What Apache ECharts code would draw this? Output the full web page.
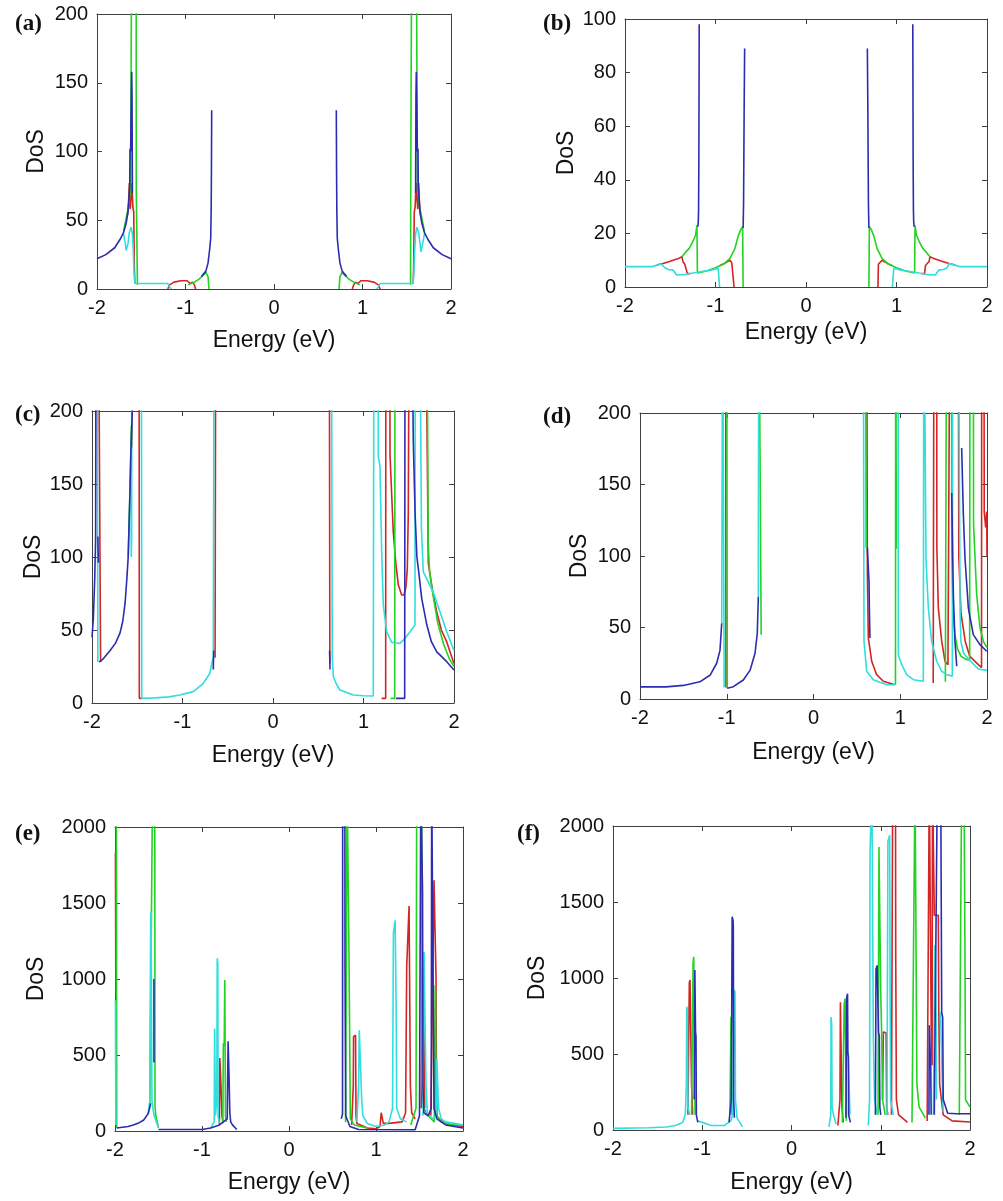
<!DOCTYPE html>
<html lang="en" style="height: 100%">

<head>
  <meta charset="utf-8">
</head>

<body style="height: 100%; margin: 0">
  <div id="container" style="width: 1003px; height: 1201px"></div>

  <script type="text/javascript" src="https://fastly.jsdelivr.net/npm/echarts@6.0.0/dist/echarts.min.js"></script>

  <script type="text/javascript">
    // [energy, DoS] pairs; BR breaks a curve
    var BR = [null, null];

    var xTicks = [-2, -1, 0, 1, 2];
    var panelTags = ['(a)', '(b)', '(c)', '(d)', '(e)', '(f)'];
    var yMax = [200, 100, 200, 200, 2000, 2000];
    var yStep = [50, 20, 50, 50, 500, 500];

    // (a)
    var aBlue = [
      [-2, 22], [-1.9, 25], [-1.8, 30], [-1.74, 36], [-1.7, 41], [-1.67, 48], [-1.65, 56], [-1.64, 65], [-1.63, 75],
      [-1.627, 102], [-1.62, 100], [-1.612, 142], [-1.608, 158], [-1.604, 140], [-1.6, 70], BR,
      [-0.82, 9], [-0.77, 13], [-0.745, 19], [-0.725, 30], [-0.715, 37], [-0.71, 57], [-0.707, 86], [-0.704, 130], BR,
      [0.704, 130], [0.707, 86], [0.71, 57], [0.715, 37], [0.725, 30], [0.745, 19], [0.77, 13], [0.82, 9], BR,
      [1.6, 70], [1.604, 140], [1.608, 158], [1.612, 142], [1.62, 100], [1.627, 102], [1.63, 75], [1.64, 65], [1.65, 56],
      [1.67, 48], [1.7, 41], [1.74, 36], [1.8, 30], [1.9, 25], [2, 22]
    ];
    var aRed = [
      [-1.66, 52], [-1.645, 60], [-1.635, 77], [-1.625, 58], [-1.615, 66], [-1.605, 77], [-1.595, 60], [-1.585, 56], [-1.578, 16], [-1.572, 4], BR,
      [-1.2, 0], [-1.18, 3], [-1.13, 5], [-1.05, 6], [-0.98, 6], [-0.95, 4], [-0.92, 5], [-0.9, 3], [-0.885, 0], BR,
      [0.885, 0], [0.9, 3], [0.92, 5], [0.95, 4], [0.98, 6], [1.05, 6], [1.13, 5], [1.18, 3], [1.2, 0], BR,
      [1.572, 4], [1.578, 16], [1.585, 56], [1.595, 60], [1.605, 77], [1.615, 66], [1.625, 58], [1.635, 77], [1.645, 60], [1.66, 52]
    ];
    var aGreen = [
      [-1.7, 42], [-1.65, 58], [-1.62, 72], [-1.606, 300], [-1.558, 300], [-1.556, 71], [-1.545, 71], [-1.543, 3], BR,
      [-0.97, 3], [-0.9, 5], [-0.85, 7], [-0.8, 10], [-0.77, 12], [-0.745, 9], [-0.735, 0], BR,
      [0.735, 0], [0.745, 9], [0.77, 12], [0.8, 10], [0.85, 7], [0.9, 5], [0.97, 3], BR,
      [1.543, 3], [1.545, 71], [1.556, 71], [1.558, 300], [1.606, 300], [1.62, 72], [1.65, 58], [1.7, 42]
    ];
    var aCyan = [
      [-1.7, 40], [-1.68, 33], [-1.67, 28], [-1.66, 27], [-1.65, 33], [-1.635, 41], [-1.615, 45], [-1.6, 40], [-1.59, 28],
      [-1.58, 10], [-1.57, 4], [-1.2, 4], [-1.18, 1.5], [-1.16, 0], BR,
      [1.16, 0], [1.18, 1.5], [1.2, 4], [1.57, 4], [1.58, 10], [1.59, 28], [1.6, 40], [1.615, 45], [1.635, 41], [1.65, 33],
      [1.66, 27], [1.67, 28], [1.68, 33], [1.7, 40]
    ];

    // (b)
    var bBlue = [
      [-1.195, 22.5], [-1.19, 24.4], [-1.187, 28.7], [-1.184, 46], [-1.18, 98], BR,
      [-0.695, 22], [-0.69, 30.6], [-0.683, 68.5], [-0.678, 89], BR,
      [0.678, 89], [0.683, 68.5], [0.69, 30.6], [0.695, 22], BR,
      [1.18, 98], [1.184, 46], [1.187, 28.7], [1.19, 24.4], [1.195, 22.5]
    ];
    var bRed = [
      [-1.65, 8.2], [-1.58, 8.8], [-1.5, 9.6], [-1.42, 10.5], [-1.37, 11.3], [-1.36, 9.5], [-1.34, 8.5], [-1.32, 8], [-1.31, 5], [-1.28, 5], BR,
      [-0.95, 8], [-0.9, 8.8], [-0.84, 10], [-0.82, 9], [-0.8, 8.5], [-0.795, 0], BR,
      [0.795, 0], [0.8, 8.5], [0.82, 9], [0.84, 10], [0.9, 8.8], [0.95, 8], BR,
      [1.28, 5], [1.31, 5], [1.32, 8], [1.34, 8.5], [1.36, 9.5], [1.37, 11.3], [1.42, 10.5], [1.5, 9.6], [1.58, 8.8], [1.65, 8.2]
    ];
    var bGreen = [
      [-1.37, 11.3], [-1.33, 13], [-1.29, 14.4], [-1.25, 17], [-1.22, 19.4], [-1.205, 23], [-1.2, 5.2], [-1.1, 6], [-1.0, 7.2],
      [-0.9, 8.8], [-0.84, 10.7], [-0.785, 14.4], [-0.75, 19], [-0.72, 21.5], [-0.7, 22.5], [-0.695, 0], BR,
      [0.695, 0], [0.7, 22.5], [0.72, 21.5], [0.75, 19], [0.785, 14.4], [0.84, 10.7], [0.9, 8.8], [1.0, 7.2], [1.1, 6],
      [1.2, 5.2], [1.205, 23], [1.22, 19.4], [1.25, 17], [1.29, 14.4], [1.33, 13], [1.37, 11.3]
    ];
    var bCyan = [
      [-2, 7.6], [-1.7, 7.6], [-1.6, 8.6], [-1.58, 8.8], [-1.56, 7.2], [-1.52, 6.5], [-1.47, 6.3], [-1.45, 5.5], [-1.43, 4.5],
      [-1.35, 4.6], [-1.25, 5.2], [-1.17, 5.7], [-1.05, 6.3], [-0.97, 7], [-0.955, 0], BR,
      [0.955, 0], [0.97, 7], [1.05, 6.3], [1.17, 5.7], [1.25, 5.2], [1.35, 4.6], [1.43, 4.5], [1.45, 5.5], [1.47, 6.3],
      [1.52, 6.5], [1.56, 7.2], [1.58, 8.8], [1.6, 8.6], [1.7, 7.6], [2, 7.6]
    ];

    // (c)
    var cBlue = [
      [-2, 45], [-1.985, 58], [-1.97, 85], [-1.96, 113], [-1.955, 300], BR,
      [-1.935, 114], [-1.93, 96], BR,
      [-1.92, 28], [-1.88, 30], [-1.8, 36], [-1.74, 41], [-1.69, 48], [-1.66, 56], [-1.635, 68], [-1.615, 85], [-1.6, 100],
      [-1.58, 146], [-1.57, 173], [-1.555, 200], BR,
      [-0.66, 23], [-0.655, 36], BR,
      [0.625, 36], [0.63, 23], BR,
      [1.36, 3.2], [1.455, 3.2], [1.459, 300], BR,
      [1.53, 300], [1.55, 180], [1.57, 130], [1.59, 100], [1.61, 90], [1.643, 71.7], [1.7, 53.4], [1.75, 42], [1.81, 35],
      [1.92, 28.3], [2, 22.6]
    ];
    var cRed = [
      [-1.93, 300], [-1.91, 300], [-1.905, 28], BR,
      [-1.56, 175], [-1.545, 300], [-1.48, 300], [-1.477, 3.2], [-1.45, 3.2], BR,
      [-0.64, 31], [-0.632, 300], BR,
      [0.622, 300], [0.628, 27], BR,
      [1.2, 3.2], [1.245, 3.2], [1.247, 300], [1.29, 300], [1.293, 170], [1.329, 117], [1.359, 94.5], [1.385, 80.8],
      [1.422, 74], [1.448, 74], [1.47, 79.7], [1.484, 92], [1.495, 130], [1.506, 300], BR,
      [1.68, 300], [1.7, 200], [1.716, 96], [1.76, 78], [1.809, 62.5], [1.86, 50], [1.919, 42], [1.993, 28.3], [2, 27]
    ];
    var cGreen = [
      [-1.6, 100], [-1.58, 146], [-1.565, 190], BR,
      [1.3, 3.2], [1.345, 3.2], [1.348, 300], BR,
      [1.62, 300], [1.7, 300], [1.715, 110], [1.73, 90], [1.771, 72.8], [1.82, 55], [1.882, 40.9], [1.95, 30], [2, 25]
    ];
    var cCyan = [
      [-1.945, 300], [-1.94, 300], [-1.935, 28], BR,
      [-1.57, 173], [-1.566, 100], [-1.562, 113], [-1.56, 300], BR,
      [-1.455, 300], [-1.45, 3.2], [-1.3, 3.5], [-1.15, 4.2], [-1.03, 5.5], [-0.88, 7.8], [-0.77, 13.5], [-0.7, 20],
      [-0.66, 31.7], [-0.65, 300], BR,
      [0.645, 300], [0.655, 31.7], [0.667, 18], [0.7, 13], [0.74, 8.9], [0.887, 5.5], [1.0, 5], [1.108, 4.8], [1.116, 300],
      [1.16, 300], [1.164, 168.7], [1.182, 162], [1.201, 103.6], [1.219, 67], [1.256, 48.8], [1.312, 41.5], [1.403, 40.8],
      [1.459, 44.3], [1.514, 48.8], [1.569, 53.4], [1.572, 300], BR,
      [1.62, 300], [1.64, 120], [1.66, 90], [1.77, 76], [1.845, 62.5], [1.92, 48.8], [1.99, 37.4], [2, 36]
    ];

    // (d)
    var dBlue = [
      [-2, 8.5], [-1.7, 8.5], [-1.5, 9.5], [-1.31, 12], [-1.19, 16.8], [-1.116, 25], [-1.078, 34], [-1.058, 53], BR,
      [-0.994, 7.5], [-0.924, 8.6], [-0.809, 13.3], [-0.732, 20], [-0.674, 32], [-0.648, 46], [-0.636, 71.5], BR,
      [0.621, 105.6], [0.64, 82], [0.645, 60], [0.651, 42.7], BR,
      [1.593, 144], [1.612, 73], [1.631, 40.3], [1.651, 22.9], BR,
      [1.708, 175.5], [1.727, 130], [1.746, 98.6], [1.785, 63.6], [1.842, 45], [1.919, 38], [1.997, 33.4], [2, 33]
    ];
    var dRed = [
      [-1.012, 300], [-1.009, 8], BR,
      [0.613, 300], [0.621, 87], [0.632, 42.7], [0.671, 26.4], [0.728, 17], [0.805, 12.4], [0.939, 10], BR,
      [1.38, 11.2], [1.389, 300], [1.42, 300], [1.422, 105.6], [1.439, 63.6], [1.478, 40.3], [1.516, 26.4], [1.55, 24],
      [1.572, 24], [1.574, 300], [1.669, 300], [1.675, 100], [1.7, 60], [1.75, 40], [1.8, 30], [1.9, 24], [1.937, 22],
      [1.939, 300], [1.965, 300], [1.968, 131], [1.985, 120], [1.997, 131], [2, 100]
    ];
    var dGreen = [
      [-1.0, 300], [-0.996, 103], [-0.994, 7.5], BR,
      [-0.63, 300], [-0.607, 300], [-0.603, 45], BR,
      [0.6, 300], [0.607, 105.6], BR,
      [0.945, 10], [0.948, 300], [0.952, 300], [0.955, 105], BR,
      [1.52, 12], [1.535, 300], [1.59, 300], [1.595, 100], [1.61, 60], [1.63, 45], [1.66, 35], [1.7, 30], [1.75, 28],
      [1.8, 27], [1.804, 300], [1.842, 300], [1.845, 122], [1.881, 73], [1.919, 49.7], [1.96, 40], [2, 36]
    ];
    var dCyan = [
      [-1.058, 53], [-1.047, 300], [-1.032, 300], [-1.03, 8], BR,
      [-0.636, 71.5], [-0.63, 300], BR,
      [0.574, 300], [0.582, 40.3], [0.613, 19.4], [0.689, 13.5], [0.844, 10], [0.939, 10], BR,
      [0.975, 300], [0.978, 31], [1.017, 24], [1.074, 17], [1.151, 13.5], [1.266, 12.4], [1.272, 300], [1.295, 300],
      [1.297, 97.4], [1.324, 63.6], [1.362, 40.3], [1.42, 26.4], [1.478, 19.4], [1.535, 17], [1.6, 16], [1.605, 300], BR,
      [1.669, 300], [1.689, 300], [1.69, 60], [1.7, 40], [1.73, 32], [1.8, 27], [1.9, 21], [2, 20]
    ];

    // (e)
    var eBlue = [
      [-1.98, 20], [-1.85, 30], [-1.79, 39], [-1.72, 55], [-1.67, 72], [-1.617, 116], [-1.59, 182], BR,
      [-1.553, 1000], [-1.552, 450], BR,
      [-1.5, 10], [-1.0, 10], [-0.9, 20], [-0.8, 40], [-0.71, 80], [-0.7, 590], [-0.695, 590], [-0.69, 380], [-0.685, 380],
      [-0.68, 120], [-0.67, 60], [-0.65, 40], [-0.6, 10], BR,
      [0.6, 80], [0.615, 110], [0.617, 2300], [0.642, 2300], [0.644, 1068], [0.648, 1068], [0.652, 100], [0.7, 30], [0.8, 10],
      [1.45, 8], [1.5, 100], [1.515, 2300], [1.53, 2300], [1.535, 1572], [1.54, 300], [1.55, 120], [1.6, 100], [1.635, 150],
      [1.64, 2300], [1.662, 2300], [1.667, 150], [1.7, 80], [1.8, 40], [1.9, 30], [2, 20]
    ];
    var eRed = [
      [-1.995, 1830], [-1.99, 880], BR,
      [-0.8, 40], [-0.795, 480], [-0.79, 489], [-0.785, 352], [-0.775, 340], [-0.77, 100], [-0.76, 60], BR,
      [0.72, 40], [0.739, 300], [0.742, 620], [0.765, 630], [0.77, 100], [0.78, 50], [0.9, 20], [1.0, 15], [1.046, 30],
      [1.06, 120], [1.084, 50], [1.15, 50], [1.3, 60], [1.34, 120], [1.353, 1080], [1.37, 1090], [1.38, 1480], [1.391, 1489],
      [1.395, 300], [1.41, 120], [1.45, 80], BR,
      [1.52, 150], [1.53, 1070], [1.545, 1060], [1.552, 690], [1.56, 150], BR,
      [1.63, 100], [1.667, 1650], [1.686, 1650], [1.69, 1000], [1.695, 300], [1.7, 100], [1.75, 60], [1.85, 40], [2, 30]
    ];
    var eGreen = [
      [-1.985, 2300], [-1.98, 20], BR,
      [-1.6, 150], [-1.568, 2300], [-1.543, 2300], [-1.54, 160], [-1.53, 100], [-1.5, 20], BR,
      [-0.76, 50], [-0.755, 578], [-0.745, 560], [-0.738, 993], [-0.733, 990], [-0.73, 100], [-0.72, 60], BR,
      [0.65, 60], [0.668, 2300], [0.686, 2300], [0.69, 1134], [0.701, 1134], [0.705, 80], [0.75, 40], [0.9, 20], BR,
      [1.4, 40], [1.46, 150], [1.468, 2300], [1.525, 2300], [1.53, 300], [1.55, 150], [1.6, 100], [1.67, 60], [1.68, 960],
      [1.685, 900], [1.69, 100], [1.8, 50], [1.9, 40], [2, 40]
    ];
    var eCyan = [
      [-1.995, 860], [-1.99, 40], BR,
      [-1.62, 110], [-1.6, 200], [-1.596, 700], [-1.59, 1400], [-1.585, 1443], [-1.58, 700], [-1.575, 200], [-1.565, 150],
      [-1.55, 100], [-1.5, 20], BR,
      [-0.9, 20], [-0.86, 60], [-0.855, 675], [-0.85, 670], [-0.845, 100], [-0.83, 200], [-0.825, 1136], [-0.818, 1100],
      [-0.815, 100], [-0.8, 50], BR,
      [0.78, 60], [0.8, 300], [0.808, 662], [0.82, 650], [0.836, 200], [0.85, 100], [0.9, 50], [1.0, 30], [1.1, 40],
      [1.15, 60], [1.19, 150], [1.2, 1300], [1.22, 1386], [1.232, 800], [1.238, 150], [1.28, 80], [1.35, 60], BR,
      [1.54, 100], [1.552, 1178], [1.565, 1178], [1.575, 300], [1.59, 120], [1.65, 80], [1.69, 100], [1.698, 476],
      [1.716, 476], [1.72, 150], [1.75, 80], [1.8, 60], [1.9, 50], [2, 40]
    ];

    // (f)
    var fBlue = [
      [-1.09, 200], [-1.083, 1053], [-1.078, 1040], [-1.075, 640], [-1.07, 620], [-1.066, 100], [-1.05, 50], BR,
      [-0.7, 50], [-0.675, 200], [-0.67, 730], [-0.665, 1403], [-0.655, 1380], [-0.652, 1340], [-0.648, 200], [-0.64, 80], BR,
      [0.61, 80], [0.618, 870], [0.628, 897], [0.632, 500], [0.637, 480], [0.64, 100], [0.66, 50], BR,
      [0.94, 100], [0.947, 1060], [0.96, 1083], [0.975, 640], [0.984, 620], [0.99, 150], [1.0, 100], BR,
      [1.54, 100], [1.544, 689], [1.555, 689], [1.56, 426], [1.565, 100], BR,
      [1.6, 100], [1.634, 2300], [1.672, 2300], [1.683, 776], [1.694, 740], [1.7, 200], [1.75, 110], [1.85, 107], [2, 107]
    ];
    var fRed = [
      [-1.16, 100], [-1.145, 970], [-1.137, 987], [-1.13, 700], [-1.12, 300], [-1.107, 100], BR,
      [0.52, 30], [0.543, 200], [0.548, 840], [0.56, 853], [0.565, 150], [0.58, 50], BR,
      [1.02, 200], [1.029, 645], [1.06, 640], [1.066, 150], [1.08, 100], BR,
      [1.12, 100], [1.134, 2300], [1.165, 2300], [1.168, 1116], [1.171, 1116], [1.175, 200], [1.2, 100], [1.3, 50], BR,
      [1.52, 60], [1.544, 2300], [1.56, 2300], [1.565, 689], [1.575, 426], [1.58, 2300], [1.589, 2300], [1.6, 1413],
      [1.645, 1413], [1.65, 800], [1.66, 300], [1.7, 100], [1.8, 60], [2, 53]
    ];
    var fGreen = [
      [-1.12, 100], [-1.103, 1100], [-1.095, 1140], [-1.09, 600], [-1.08, 100], BR,
      [-0.69, 100], [-0.678, 745], [-0.672, 745], [-0.668, 100], BR,
      [0.57, 50], [0.59, 830], [0.6, 864], [0.61, 300], [0.615, 60], BR,
      [0.97, 100], [0.98, 1862], [0.99, 1850], [1.0, 900], [1.01, 640], [1.02, 200], [1.05, 100], BR,
      [1.35, 50], [1.384, 2300], [1.403, 2300], [1.405, 300], [1.43, 150], [1.5, 80], BR,
      [1.88, 100], [1.907, 2300], [1.933, 2300], [1.944, 1105], [1.95, 200], [2, 150]
    ];
    var fCyan = [
      [-2, 11], [-1.6, 15], [-1.4, 20], [-1.3, 30], [-1.22, 50], [-1.19, 100], [-1.178, 300], [-1.174, 811], [-1.168, 790],
      [-1.16, 150], [-1.14, 100], BR,
      [-1.05, 60], [-0.9, 30], [-0.75, 30], [-0.68, 60], [-0.66, 100], [-0.645, 700], [-0.638, 921], [-0.633, 900],
      [-0.628, 200], [-0.61, 80], [-0.55, 20], BR,
      [0.42, 20], [0.44, 100], [0.443, 743], [0.45, 700], [0.455, 150], [0.47, 100], [0.5, 40], BR,
      [0.635, 513], [0.648, 513], [0.655, 100], BR,
      [0.86, 30], [0.875, 200], [0.88, 1818], [0.9, 2300], [0.915, 2300], [0.917, 600], [0.93, 200], [0.96, 100], BR,
      [1.07, 100], [1.08, 1900], [1.1, 1939], [1.105, 900], [1.111, 200], [1.14, 100], BR,
      [1.59, 100], [1.605, 1215], [1.61, 1200], [1.62, 800], [1.625, 200], BR,
      [1.67, 776], [1.68, 770], [1.69, 300], [1.7, 120]
    ];

    var panelData = [
      [aRed, aGreen, aCyan, aBlue],
      [bRed, bGreen, bCyan, bBlue],
      [cRed, cGreen, cCyan, cBlue],
      [dRed, dGreen, dCyan, dBlue],
      [eRed, eGreen, eCyan, eBlue],
      [fRed, fGreen, fCyan, fBlue]
    ];
    var lineColors = ['#d42424', '#22d422', '#30dede', '#2c2cb0'];

    // plot boxes in pixels
    var boxes = [
      { left: 97, top: 14, width: 354, height: 275, dosGap: 49, eGap: 40, tagX: 15, tagY: 24 },
      { left: 625, top: 19, width: 362, height: 268, dosGap: 47, eGap: 34, tagX: 543, tagY: 24 },
      { left: 92, top: 411, width: 362, height: 292, dosGap: 47, eGap: 41, tagX: 15, tagY: 415 },
      { left: 640, top: 413, width: 347, height: 286, dosGap: 49, eGap: 42, tagX: 543, tagY: 417 },
      { left: 115, top: 827, width: 348, height: 304, dosGap: 67, eGap: 40, tagX: 15, tagY: 834 },
      { left: 613, top: 826, width: 357, height: 304, dosGap: 64, eGap: 41, tagX: 517, tagY: 834 }
    ];

    var font = 'Liberation Sans, Arial, sans-serif';
    var axisColor = '#404040';

    var dom = document.getElementById('container');
    var myChart = echarts.init(dom, null, { renderer: 'canvas' });

    var grids = [], xAxes = [], yAxes = [], series = [], graphics = [];

    function tickStyle() {
      return { show: true, inside: true, length: 5, lineStyle: { color: axisColor, width: 1 } };
    }

    boxes.forEach(function (b, i) {
      grids.push({ left: b.left, top: b.top, width: b.width, height: b.height, outerBoundsMode: 'none' });

      var xBase = {
        type: 'value', gridIndex: i, min: xTicks[0], max: xTicks[xTicks.length - 1], interval: 1,
        axisLine: { show: true, onZero: false, lineStyle: { color: axisColor, width: 1 } },
        axisTick: tickStyle(), splitLine: { show: false }
      };
      xAxes.push(Object.assign({}, xBase, {
        position: 'bottom',
        axisLabel: { margin: 9, fontSize: 20, fontFamily: font, color: '#111' },
        name: 'Energy (eV)', nameLocation: 'middle', nameGap: b.eGap,
        nameTextStyle: { fontSize: 23, fontFamily: font, color: '#111' }
      }));
      xAxes.push(Object.assign({}, xBase, { position: 'top', axisLabel: { show: false } }));

      var yBase = {
        type: 'value', gridIndex: i, min: 0, max: yMax[i], interval: yStep[i],
        axisLine: { show: true, onZero: false, lineStyle: { color: axisColor, width: 1 } },
        axisTick: tickStyle(), splitLine: { show: false }
      };
      yAxes.push(Object.assign({}, yBase, {
        position: 'left',
        axisLabel: { margin: 9, fontSize: 20, fontFamily: font, color: '#111', formatter: function (v) { return String(v); } },
        name: 'DoS', nameLocation: 'middle', nameGap: b.dosGap,
        nameTextStyle: { fontSize: 23, fontFamily: font, color: '#111' }
      }));
      yAxes.push(Object.assign({}, yBase, { position: 'right', axisLabel: { show: false } }));

      panelData[i].forEach(function (d, k) {
        series.push({
          type: 'line', xAxisIndex: 2 * i, yAxisIndex: 2 * i, data: d,
          showSymbol: false, symbol: 'none', clip: true, connectNulls: false,
          lineStyle: { color: lineColors[k], width: 1.6 }, silent: true
        });
      });

      graphics.push({
        type: 'text', x: b.tagX, y: b.tagY,
        style: {
          text: panelTags[i], fill: '#111', font: 'bold 23px "Liberation Serif", "Times New Roman", serif',
          textAlign: 'left', textVerticalAlign: 'middle'
        }
      });
    });

    var option = {
      backgroundColor: '#ffffff',
      animation: false,
      grid: grids,
      xAxis: xAxes,
      yAxis: yAxes,
      series: series,
      graphic: graphics
    };

    myChart.setOption(option);
    window.addEventListener('resize', myChart.resize);
  </script>
</body>

</html>
